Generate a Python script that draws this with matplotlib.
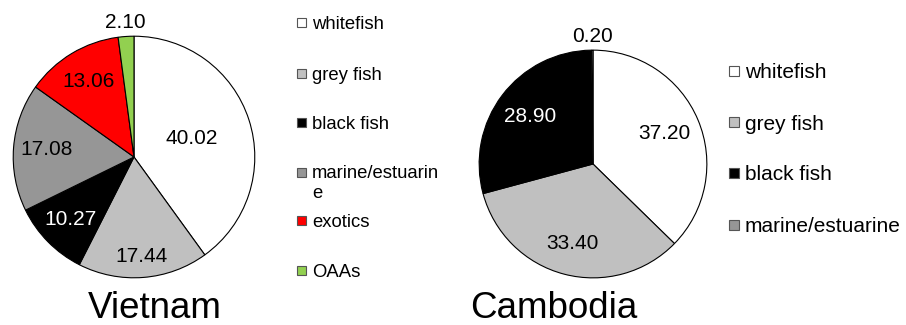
import numpy as np
import matplotlib.pyplot as plt
from matplotlib.patches import Rectangle

plt.rcParams['font.family'] = ['Liberation Sans', 'DejaVu Sans']

# ---- data ----
vn_labels = ["whitefish", "grey fish", "black fish", "marine/estuarin\ne", "exotics", "OAAs"]
vn_values = [40.02, 17.44, 10.27, 17.08, 13.06, 2.10]
vn_colors = ["#FFFFFF", "#C0C0C0", "#000000", "#969696", "#FF0000", "#92D050"]

kh_labels = ["whitefish", "grey fish", "black fish", "marine/estuarine"]
kh_values = [37.20, 33.40, 28.90, 0.20]
kh_colors = ["#FFFFFF", "#C0C0C0", "#000000", "#969696"]

# where each value label sits along its wedge (fraction of radius)
vn_label_r = [0.50, 0.83, 0.74, 0.73, 0.73, 1.12]
kh_label_r = [0.68, 0.72, 0.69, 1.12]

W, H = 906, 325
fig = plt.figure(figsize=(W / 100, H / 100), dpi=100)


def pie_axes(cx, cy, r):
    return fig.add_axes([(cx - r) / W, 1 - (cy + r) / H, 2 * r / W, 2 * r / H])


def draw_pie(ax, values, colors, label_r, fs):
    wedges, _ = ax.pie(values, colors=colors, startangle=90, counterclock=False,
                       wedgeprops=dict(edgecolor="black", linewidth=0.8))
    for w, v, rr in zip(wedges, values, label_r):
        ang = np.deg2rad((w.theta1 + w.theta2) / 2)
        # white text on the black wedge, black everywhere else
        tc = "white" if (w.get_facecolor()[0] < 0.2 and rr < 1) else "black"
        ax.text(rr * np.cos(ang), rr * np.sin(ang), f"{v:.2f}", ha="center", va="center",
                fontsize=fs, color=tc)
    ax.set_xlim(-1.01, 1.01)
    ax.set_ylim(-1.01, 1.01)
    ax.set_aspect("equal")
    ax.axis("off")


ax1 = pie_axes(134, 157, 122)
draw_pie(ax1, vn_values, vn_colors, vn_label_r, 15)

ax2 = pie_axes(593, 164, 115)
draw_pie(ax2, kh_values, kh_colors, kh_label_r, 15)

# overlay in pixel coords for legends and titles
ov = fig.add_axes([0, 0, 1, 1], zorder=-1)
ov.set_xlim(0, W)
ov.set_ylim(H, 0)
ov.axis("off")


def draw_legend(x, rows, labels, colors, size, fs, line_gap=19.5):
    cap = fs * 100 / 72 * 0.72
    for y, lab, c in zip(rows, labels, colors):
        ov.add_patch(Rectangle((x, y - size / 2), size, size, facecolor=c,
                               edgecolor="#555555", linewidth=0.8))
        # baseline anchors the last line, so push wrapped labels down
        extra = lab.count("\n") * line_gap
        ov.text(x + size + 6, y + cap / 2 + extra, lab, ha="left", va="baseline",
                fontsize=fs, linespacing=1.25)


vn_rows = [22, 73, 122, 172, 220, 270]
draw_legend(297, vn_rows, vn_labels, vn_colors, 9, 13.3)
kh_rows = [71, 122, 173, 225]
draw_legend(729, kh_rows, kh_labels, kh_colors, 10, 15)

ov.text(88, 318, "Vietnam", ha="left", va="baseline", fontsize=26.5)
ov.text(470, 318, "Cambodia", ha="left", va="baseline", fontsize=26.5)

fig.savefig("out.png", dpi=100, facecolor="white")
